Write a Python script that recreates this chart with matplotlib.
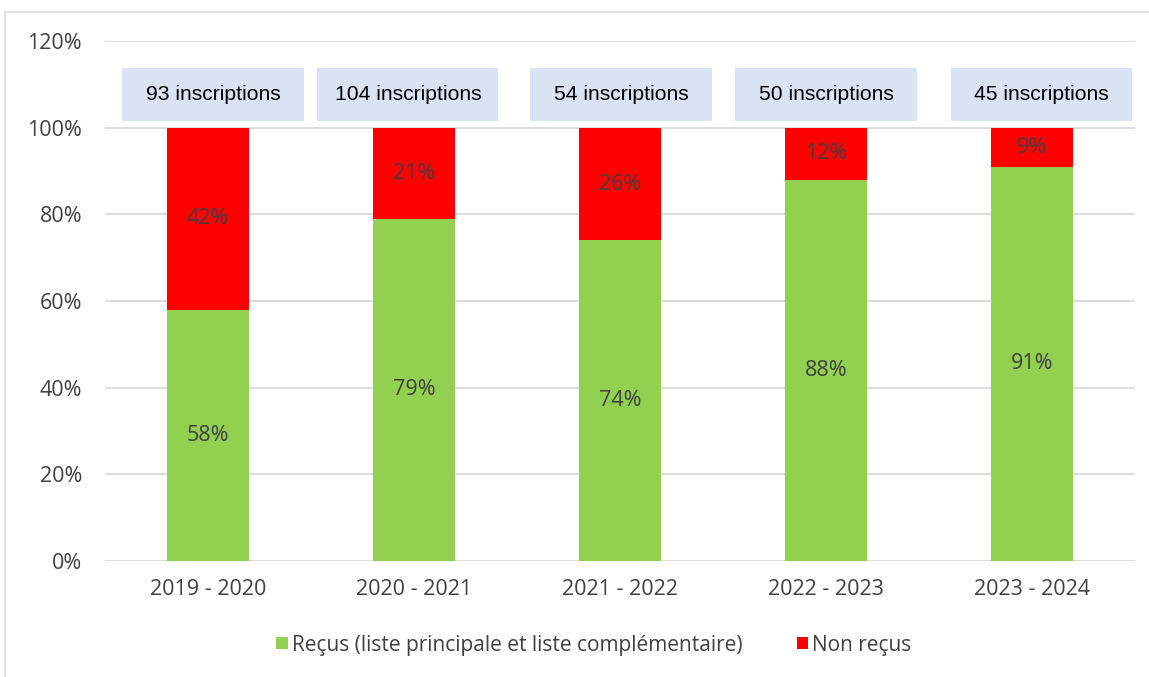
import matplotlib
matplotlib.use("Agg")
import matplotlib.pyplot as plt
from matplotlib.patches import Rectangle

categories = ["2019 - 2020", "2020 - 2021", "2021 - 2022", "2022 - 2023", "2023 - 2024"]
recus = [58, 79, 74, 88, 91]
non_recus = [42, 21, 26, 12, 9]
inscriptions = ["93 inscriptions", "104 inscriptions", "54 inscriptions", "50 inscriptions", "45 inscriptions"]
yticks = [0, 20, 40, 60, 80, 100, 120]

# horizontal offsets of the hand-placed text boxes (in category units)
box_offsets = [0.024, -0.03, 0.005, 0.0, 0.045]

GREEN = "#92d050"
RED = "#ff0000"
TXT = "#404040"
GRID = "#d9d9d9"
FONT = ["Open Sans", "DejaVu Sans"]
FS = 15.5

plt.rcParams["font.family"] = FONT

fig = plt.figure(figsize=(11.49, 6.77), dpi=100)
W, H = 1149, 677

# outer chart frame
fig.patches.append(Rectangle((5 / W, -0.1), 1.2, (H - 12) / H + 0.1, transform=fig.transFigure,
                             fill=False, edgecolor=GRID, linewidth=1.2))

ax = fig.add_axes([105 / W, 1 - 561 / H, (1135 - 105) / W, (561 - 41) / H])
x = list(range(len(categories)))
bw = 0.4
ax.bar(x, recus, width=bw, color=GREEN, zorder=3, label="Reçus (liste principale et liste complémentaire)")
ax.bar(x, non_recus, width=bw, bottom=recus, color=RED, zorder=3, label="Non reçus")

for i in x:
    ax.text(i, recus[i] / 2, f"{recus[i]}%", ha="center", va="center", fontsize=FS, color=TXT, zorder=4)
    ax.text(i, recus[i] + non_recus[i] / 2, f"{non_recus[i]}%", ha="center", va="center",
            fontsize=FS, color=TXT, zorder=4)
    cx = i + box_offsets[i]
    ax.add_patch(Rectangle((cx - 0.44, 101.6), 0.88, 12.2, facecolor="#dae3f3", edgecolor="none",
                           zorder=3, clip_on=False))
    ax.text(cx, 107.7, inscriptions[i], ha="center", va="center", fontsize=15.2, color="black",
            family=["Liberation Sans", "DejaVu Sans"], zorder=4)

ax.set_xlim(-0.5, len(categories) - 0.5)
ax.set_ylim(0, 120)
ax.set_yticks(yticks)
ax.set_yticklabels([f"{v}%" for v in yticks])
ax.set_xticks(x)
ax.set_xticklabels(categories)
ax.tick_params(axis="both", length=0, labelsize=FS, labelcolor=TXT)
ax.tick_params(axis="y", pad=16.5)
ax.tick_params(axis="x", pad=13)
ax.yaxis.grid(True, color=GRID, linewidth=1.3, zorder=0)
for s in ax.spines.values():
    s.set_visible(False)

leg = fig.legend(loc="center", bbox_to_anchor=(594 / W, 1 - 645 / H), ncol=2, frameon=False,
                 fontsize=15, handlelength=0.55, handleheight=0.55, handletextpad=0.2,
                 columnspacing=2.6)
for t in leg.get_texts():
    t.set_color(TXT)

fig.savefig("out.png", dpi=100)
